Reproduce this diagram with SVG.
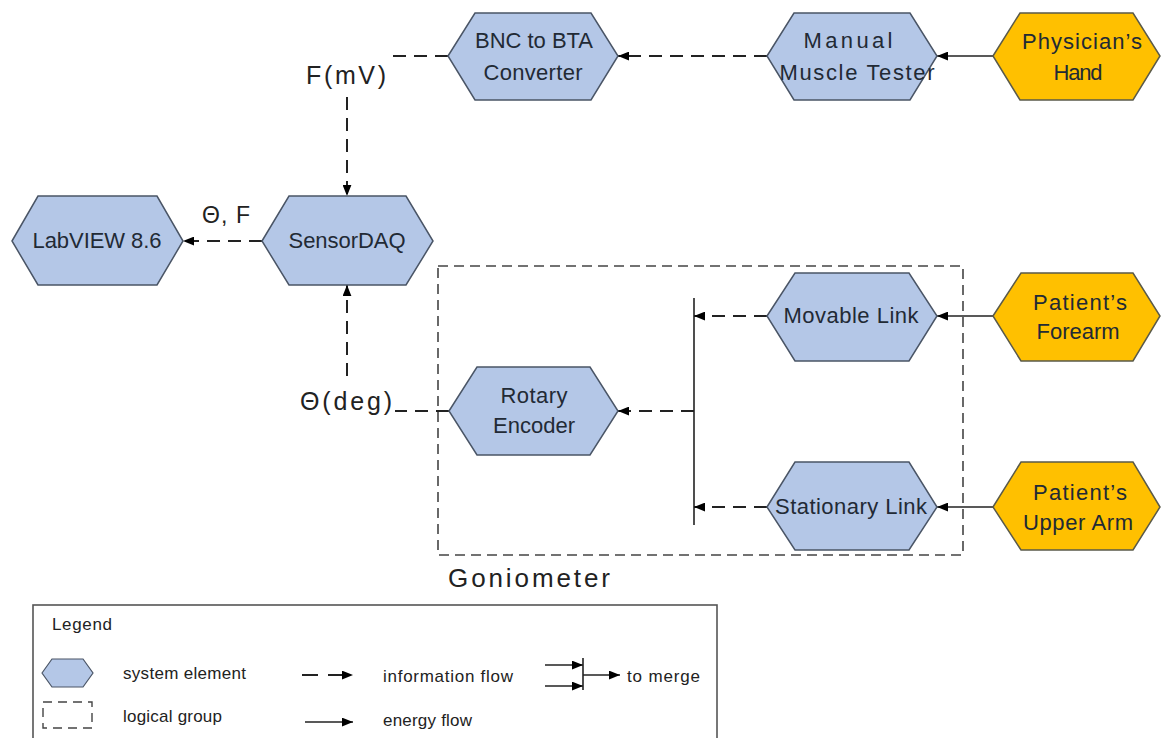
<svg xmlns="http://www.w3.org/2000/svg" width="1161" height="738" viewBox="0 0 1161 738">
<style>
  .blue{fill:#b4c7e7;stroke:#4a5566;stroke-width:1.5}
  .orange{fill:#ffc000;stroke:#5a5a4a;stroke-width:1.5}
  .nt{font-family:"Liberation Sans",Arial,sans-serif;font-size:22px;fill:#222a35;text-anchor:middle}
  .lbl{font-family:"Liberation Sans",Arial,sans-serif;font-size:25px;fill:#222}
  .lg{font-family:"Liberation Sans",Arial,sans-serif;font-size:17px;fill:#222}
  .dash{fill:none;stroke:#222;stroke-width:2;stroke-dasharray:13,8}
  .solid{fill:none;stroke:#222;stroke-width:1.6}
  .grp{fill:none;stroke:#444;stroke-width:1.6;stroke-dasharray:10,6}
</style>
<defs>
  <marker id="ah" viewBox="0 0 10 8" refX="10" refY="4" markerWidth="11" markerHeight="9" markerUnits="userSpaceOnUse" orient="auto">
    <path d="M0,0 L10,4 L0,8 z" fill="#000"/>
  </marker>
</defs>
<rect width="1161" height="738" fill="#fff"/>

<g id="goniometer">
  <rect class="grp" x="438" y="266" width="525" height="289"/>
  <text class="lbl" x="448" y="587" style="font-size:26px" textLength="162" lengthAdjust="spacing">Goniometer</text>
</g>

<g id="connectors">
  <line class="solid" x1="993" y1="56" x2="937" y2="56" marker-end="url(#ah)"/>
  <line class="dash" x1="767" y1="56" x2="618" y2="56" marker-end="url(#ah)"/>
  <line class="dash" x1="448" y1="56" x2="388" y2="56"/>
  <line class="dash" x1="347" y1="97" x2="347" y2="196" marker-end="url(#ah)"/>
  <line class="dash" x1="262" y1="241" x2="183" y2="241" marker-end="url(#ah)"/>
  <line class="dash" x1="449" y1="411" x2="395" y2="411"/>
  <line class="dash" x1="347" y1="376" x2="347" y2="285" marker-end="url(#ah)"/>
  <line class="solid" x1="694" y1="298" x2="694" y2="525"/>
  <line class="dash" x1="694" y1="411" x2="618" y2="411" marker-end="url(#ah)"/>
  <line class="dash" x1="767" y1="316" x2="694" y2="316" marker-end="url(#ah)"/>
  <line class="dash" x1="767" y1="507" x2="694" y2="507" marker-end="url(#ah)"/>
  <line class="solid" x1="993" y1="316" x2="937" y2="316" marker-end="url(#ah)"/>
  <line class="solid" x1="993" y1="507" x2="937" y2="507" marker-end="url(#ah)"/>
  <text class="lbl" x="306" y="84" textLength="80" lengthAdjust="spacing">F(mV)</text>
  <text class="lbl" x="202" y="223" style="font-size:23px" textLength="48" lengthAdjust="spacing">Θ, F</text>
  <text class="lbl" x="300" y="410" textLength="92" lengthAdjust="spacing">Θ(deg)</text>
</g>

<g id="bnc">
  <polygon class="blue" points="448,56 475,13 591,13 618,56 591,100 475,100"/>
  <text class="nt" x="534" y="48" textLength="118" lengthAdjust="spacing">BNC to BTA</text>
  <text class="nt" x="533" y="80" textLength="99" lengthAdjust="spacing">Converter</text>
</g>
<g id="mmt">
  <polygon class="blue" points="767,56 794,13 910,13 937,56 910,100 794,100"/>
  <text class="nt" x="848" y="48" textLength="89" lengthAdjust="spacing">Manual</text>
  <text class="nt" x="857" y="80" textLength="155" lengthAdjust="spacing">Muscle Tester</text>
</g>
<g id="physician">
  <polygon class="orange" points="993,56 1020,13 1133,13 1160,56 1133,100 1020,100"/>
  <text class="nt" x="1082" y="49" textLength="120" lengthAdjust="spacing">Physician’s</text>
  <text class="nt" x="1078" y="80" textLength="49" lengthAdjust="spacing">Hand</text>
</g>
<g id="sensordaq">
  <polygon class="blue" points="262,241 289,196 406,196 433,241 406,285 289,285"/>
  <text class="nt" x="347" y="248" textLength="117" lengthAdjust="spacing">SensorDAQ</text>
</g>
<g id="labview">
  <polygon class="blue" points="12,241 38,196 157,196 183,241 157,285 38,285"/>
  <text class="nt" x="97" y="248" textLength="129" lengthAdjust="spacing">LabVIEW 8.6</text>
</g>
<g id="rotary">
  <polygon class="blue" points="449,411 477,367 590,367 618,411 590,455 477,455"/>
  <text class="nt" x="534" y="403" textLength="67" lengthAdjust="spacing">Rotary</text>
  <text class="nt" x="534" y="433" textLength="82" lengthAdjust="spacing">Encoder</text>
</g>
<g id="movable">
  <polygon class="blue" points="767,316 795,273 909,273 937,316 909,361 795,361"/>
  <text class="nt" x="851" y="323" textLength="135" lengthAdjust="spacing">Movable Link</text>
</g>
<g id="stationary">
  <polygon class="blue" points="767,507 795,462 909,462 937,507 909,550 795,550"/>
  <text class="nt" x="851" y="514" textLength="152" lengthAdjust="spacing">Stationary Link</text>
</g>
<g id="forearm">
  <polygon class="orange" points="993,316 1021,273 1133,273 1160,316 1133,361 1021,361"/>
  <text class="nt" x="1080" y="310" textLength="94" lengthAdjust="spacing">Patient’s</text>
  <text class="nt" x="1078" y="339" textLength="83" lengthAdjust="spacing">Forearm</text>
</g>
<g id="upperarm">
  <polygon class="orange" points="993,507 1021,462 1133,462 1160,507 1133,550 1021,550"/>
  <text class="nt" x="1080" y="500" textLength="94" lengthAdjust="spacing">Patient’s</text>
  <text class="nt" x="1078" y="530" textLength="110" lengthAdjust="spacing">Upper Arm</text>
</g>

<g id="legend">
  <rect x="33" y="605" width="684" height="140" fill="#fff" stroke="#555" stroke-width="1.6"/>
  <text class="lg" x="52" y="630" textLength="60" lengthAdjust="spacing">Legend</text>
  <polygon class="blue" points="42,673 52,659 83,659 93,673 83,687 52,687" style="stroke-width:1.2"/>
  <text class="lg" x="123" y="679" textLength="123" lengthAdjust="spacing">system element</text>
  <line x1="302" y1="675" x2="353" y2="675" stroke="#222" stroke-width="2" stroke-dasharray="16,10" marker-end="url(#ah)"/>
  <text class="lg" x="383" y="682" textLength="130" lengthAdjust="spacing">information flow</text>
  <line class="solid" x1="545" y1="665" x2="583" y2="665" marker-end="url(#ah)"/>
  <line class="solid" x1="545" y1="686" x2="583" y2="686" marker-end="url(#ah)"/>
  <line class="solid" x1="583" y1="658" x2="583" y2="690"/>
  <line class="solid" x1="583" y1="675" x2="620" y2="675" marker-end="url(#ah)"/>
  <text class="lg" x="627" y="682" textLength="73" lengthAdjust="spacing">to merge</text>
  <rect x="43" y="702" width="49" height="26" fill="none" stroke="#444" stroke-width="1.4" stroke-dasharray="9,6"/>
  <text class="lg" x="123" y="722" textLength="99" lengthAdjust="spacing">logical group</text>
  <line class="solid" x1="305" y1="722" x2="353" y2="722" marker-end="url(#ah)"/>
  <text class="lg" x="383" y="726" textLength="89" lengthAdjust="spacing">energy flow</text>
</g>
</svg>
